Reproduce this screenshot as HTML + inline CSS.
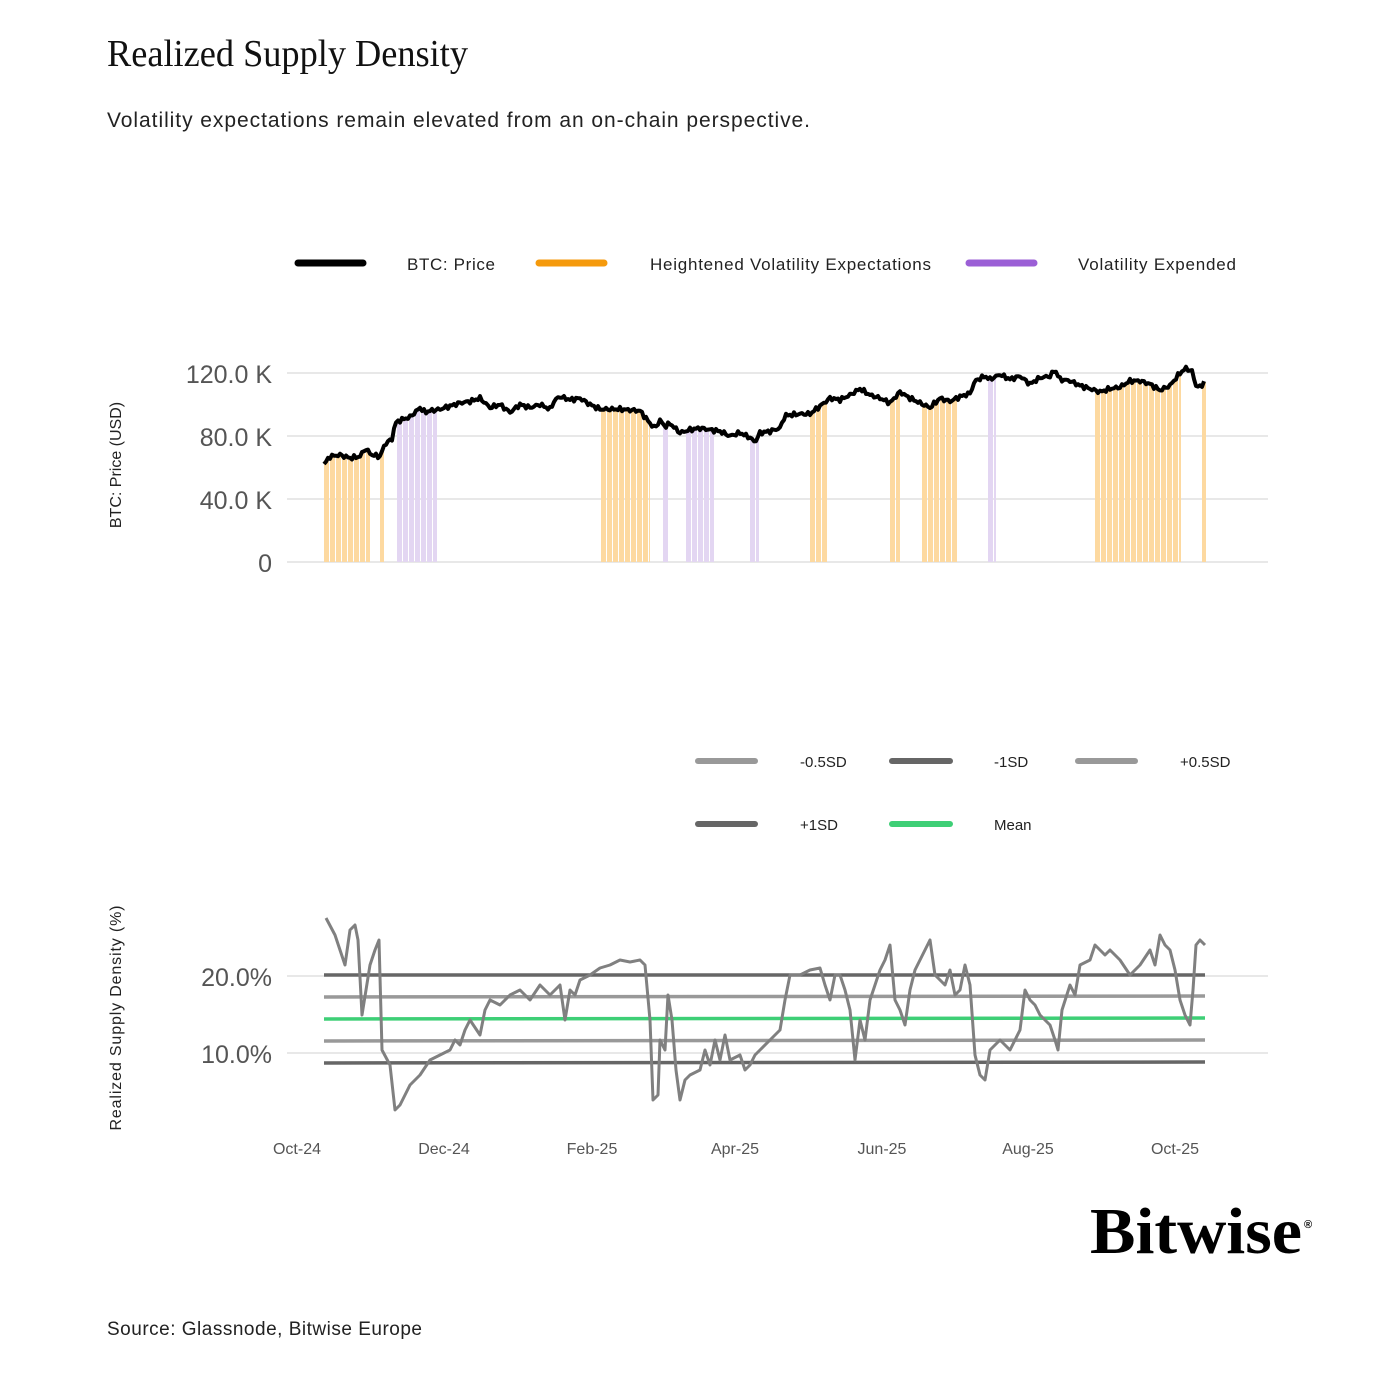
<!DOCTYPE html>
<html><head><meta charset="utf-8">
<style>
html,body{margin:0;padding:0;background:#fff;}
svg{display:block;}
.s{font-family:"Liberation Sans",sans-serif;}
.f{font-family:"Liberation Serif",serif;}
</style></head>
<body>
<svg id="s" class="s" width="1377" height="1377" viewBox="0 0 1377 1377" xmlns="http://www.w3.org/2000/svg">
<text class="f" x="107" y="66" font-size="38" textLength="361" lengthAdjust="spacingAndGlyphs" fill="#111">Realized Supply Density</text>
<text x="107" y="127" font-size="21" textLength="703" fill="#222">Volatility expectations remain elevated from an on-chain perspective.</text>

<!-- legend top -->
<line x1="298" y1="263" x2="363" y2="263" stroke="#000" stroke-width="7" stroke-linecap="round"/>
<text x="407" y="270" font-size="17" textLength="88" fill="#222">BTC: Price</text>
<line x1="539" y1="263" x2="604" y2="263" stroke="#f59a0c" stroke-width="7" stroke-linecap="round"/>
<text x="650" y="270" font-size="17" textLength="281" fill="#222">Heightened Volatility Expectations</text>
<line x1="969" y1="263" x2="1034" y2="263" stroke="#9b5fd6" stroke-width="7" stroke-linecap="round"/>
<text x="1078" y="270" font-size="17" textLength="158" fill="#222">Volatility Expended</text>

<!-- top chart grid -->
<g stroke="#d0d0d0" stroke-width="1">
<line x1="287" y1="373" x2="1268" y2="373"/><line x1="287" y1="436" x2="1268" y2="436"/>
<line x1="287" y1="499" x2="1268" y2="499"/><line x1="287" y1="562" x2="1268" y2="562"/>
</g>
<g font-size="25" fill="#555" text-anchor="end">
<text x="272" y="383">120.0 K</text><text x="272" y="446">80.0 K</text>
<text x="272" y="509">40.0 K</text><text x="272" y="572">0</text>
</g>
<text transform="translate(121,465) rotate(-90)" font-size="16" fill="#222" text-anchor="middle">BTC: Price (USD)</text>
<g id="bars"></g>
<polyline id="price" fill="none" stroke="#000" stroke-width="4" stroke-linejoin="round"/>

<!-- legend bottom -->
<g stroke-width="6" stroke-linecap="round">
<line x1="698" y1="761" x2="755" y2="761" stroke="#999"/>
<line x1="892" y1="761" x2="950" y2="761" stroke="#666"/>
<line x1="1078" y1="761" x2="1135" y2="761" stroke="#999"/>
<line x1="698" y1="824" x2="755" y2="824" stroke="#666"/>
<line x1="892" y1="824" x2="950" y2="824" stroke="#3ecf76"/>
</g>
<g font-size="15" fill="#222">
<text x="800" y="767">-0.5SD</text><text x="994" y="767">-1SD</text><text x="1180" y="767">+0.5SD</text>
<text x="800" y="830">+1SD</text><text x="994" y="830">Mean</text>
</g>

<!-- bottom chart -->
<g stroke="#d0d0d0" stroke-width="1">
<line x1="287" y1="976" x2="1268" y2="976"/><line x1="287" y1="1053" x2="1268" y2="1053"/>
</g>
<g font-size="25" fill="#555" text-anchor="end">
<text x="272" y="986">20.0%</text><text x="272" y="1063">10.0%</text>
</g>
<text transform="translate(121,1018) rotate(-90)" font-size="16" fill="#222" text-anchor="middle" textLength="225">Realized Supply Density (%)</text>
<g stroke-width="3.5" fill="none">
<line x1="324" y1="975" x2="1205" y2="975" stroke="#666"/>
<line x1="324" y1="997" x2="1205" y2="996" stroke="#999"/>
<line x1="324" y1="1019" x2="1205" y2="1018" stroke="#3ecf76"/>
<line x1="324" y1="1041" x2="1205" y2="1040" stroke="#999"/>
<line x1="324" y1="1063" x2="1205" y2="1062" stroke="#666"/>
<polyline stroke="#808080" stroke-width="3" stroke-linejoin="round" points="326,918 335,935 340,950 345,965 350,930 355,925 358,940 362,1015 366,990 370,965 375,950 379,940 382,1050 390,1065 395,1110 400,1105 410,1085 420,1075 430,1060 440,1055 450,1050 455,1040 460,1045 465,1030 470,1020 480,1035 485,1010 490,1000 500,1005 510,995 520,990 530,1000 540,985 550,995 560,985 565,1020 570,990 575,995 580,980 590,975 600,968 610,965 620,960 630,962 640,960 645,965 650,1020 653,1100 658,1095 660,1040 665,1050 668,995 672,1020 676,1070 680,1100 685,1080 690,1075 700,1070 705,1050 710,1065 715,1040 720,1060 725,1035 730,1060 740,1055 745,1070 750,1065 755,1055 760,1050 770,1040 780,1030 785,1000 790,975 800,975 810,970 820,968 825,985 830,1000 835,975 840,975 845,990 850,1010 855,1060 860,1020 865,1040 870,1000 875,985 880,970 885,960 890,945 895,1000 900,1010 905,1025 910,990 915,970 920,960 925,950 930,940 935,975 940,980 945,985 950,970 955,995 960,990 965,965 970,985 975,1055 980,1075 985,1080 990,1050 1000,1040 1010,1050 1020,1030 1025,990 1030,1000 1035,1005 1040,1015 1045,1020 1050,1025 1055,1040 1058,1050 1062,1010 1070,985 1075,995 1080,965 1090,960 1095,945 1100,950 1105,955 1110,950 1120,960 1130,975 1140,965 1150,950 1155,965 1160,935 1165,945 1170,950 1175,970 1180,1000 1185,1015 1190,1025 1193,990 1196,945 1200,940 1205,945"/>
</g>
<g font-size="16" fill="#555" text-anchor="middle">
<text x="297" y="1154">Oct-24</text><text x="444" y="1154">Dec-24</text><text x="592" y="1154">Feb-25</text>
<text x="735" y="1154">Apr-25</text><text x="882" y="1154">Jun-25</text><text x="1028" y="1154">Aug-25</text><text x="1175" y="1154">Oct-25</text>
</g>

<text class="f" x="1090" y="1253" font-weight="bold" font-size="66" textLength="212" lengthAdjust="spacingAndGlyphs" fill="#000">Bitwise</text>
<text x="1304" y="1228" font-size="11" font-weight="bold" fill="#000">®</text>
<text x="107" y="1335" font-size="19" textLength="315" fill="#222">Source: Glassnode, Bitwise Europe</text>
</svg>
<script>
var P=[[324,62],[330,67],[340,68],[350,66],[360,67],[365,72],[372,68],[380,67],[385,75],[392,78],[395,88],[400,90],[410,92],[420,98],[425,95],[430,96],[440,97],[450,99],[460,101],[470,102],[480,104],[485,101],[490,98],[500,100],[510,95],[520,100],[530,98],[540,100],[550,97],[555,103],[560,105],[570,103],[580,104],[590,100],[600,97],[620,97],[640,96],[650,88],[655,85],[660,90],[665,86],[670,88],[680,82],[690,84],[700,85],[710,84],[720,83],[730,80],[740,82],[750,79],[755,76],[760,82],[770,83],[780,85],[785,93],[800,94],[810,94],[820,99],[830,104],[840,103],[850,106],[860,110],[870,106],[880,104],[890,101],[900,108],[910,104],[920,101],[930,98],[940,104],[950,102],[960,105],[970,107],[975,115],[985,118],[990,116],[1000,119],[1010,116],[1020,118],[1030,113],[1040,117],[1050,118],[1055,122],[1060,116],[1070,115],[1080,112],[1090,110],[1100,108],[1110,110],[1120,111],[1130,115],[1140,115],[1150,113],[1160,109],[1170,112],[1180,120],[1186,123],[1192,121],[1196,112],[1200,111],[1205,115]];
function py(x){for(var i=1;i<P.length;i++){if(x<=P[i][0]){var a=P[i-1],b=P[i],t=(x-a[0])/(b[0]-a[0]);return 562-(a[1]+t*(b[1]-a[1]))*1.575;}}return 562-115*1.575;}
var pts=[];for(var x=324;x<=1205;x+=2){var y=py(x)+(Math.sin(x*1.7)+Math.sin(x*0.9))*1.2;pts.push(x+','+y.toFixed(1));}
document.getElementById('price').setAttribute('points',pts.join(' '));
var B=[[324,370,'#fdd9a0'],[380,384,'#fdd9a0'],[397,437,'#e3d6f2'],[601,650,'#fdd9a0'],[663,669,'#e3d6f2'],[686,714,'#e3d6f2'],[750,759,'#e3d6f2'],[810,827,'#fdd9a0'],[890,900,'#fdd9a0'],[922,957,'#fdd9a0'],[988,996,'#e3d6f2'],[1095,1181,'#fdd9a0'],[1202,1206,'#fdd9a0']];
var g=document.getElementById('bars'),h='';
B.forEach(function(b){for(var x=b[0];x<b[1];x+=6){var w=Math.min(5,b[1]-x);var y=py(x+w/2);h+='<rect x="'+x+'" y="'+y.toFixed(1)+'" width="'+w+'" height="'+(562-y).toFixed(1)+'" fill="'+b[2]+'"/>';}});
g.innerHTML=h;
</script>
</body></html>
